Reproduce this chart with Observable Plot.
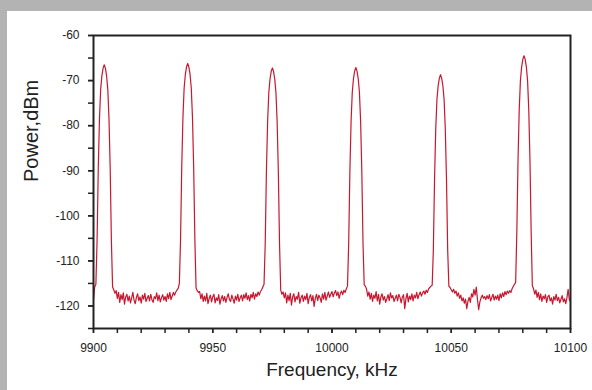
<!DOCTYPE html>
<html>
<head>
<meta charset="utf-8">
<script src="https://cdn.jsdelivr.net/npm/d3@7"></script>
<script src="https://cdn.jsdelivr.net/npm/@observablehq/plot@0.6"></script>
<style>
  html, body { margin: 0; padding: 0; }
  body { width: 592px; height: 390px; background: #b3b3b3; position: relative; overflow: hidden; }
  #chart { position: absolute; left: 7px; top: 11px; width: 585px; height: 379px; background: #ffffff; }
</style>
</head>
<body>
<div id="chart"></div>
<script>
// Spectrum sampled every 0.5 kHz starting at 9900 kHz
const freqStart = 9900;
const freqStep = 0.5;

const floor0 = [-118.6, -115.8];
const peak1 = [-115.2, -105.5, -89.5, -78.5, -72.0, -69.0, -67.3, -66.5, -67.3, -69.0, -72.0, -78.5, -89.5, -105.5, -115.8];
const floor1 = [
  -116.4, -117.2, -116.6, -118.3, -117.0, -119.2, -117.5, -118.6, -117.1, -119.6,
  -118.0, -117.4, -118.9, -117.8, -119.3, -118.2, -117.0, -118.7, -119.5, -118.1,
  -117.3, -118.8, -118.0, -119.4, -117.6, -118.5, -117.2, -119.0, -118.3, -117.7,
  -118.9, -117.4, -118.6, -119.2, -117.9, -118.4, -117.1, -118.8, -117.6, -119.1,
  -118.2, -117.5, -118.7, -117.9, -119.0, -117.3, -118.4, -117.0, -118.6, -117.8,
  -117.0, -117.6, -116.9, -116.5, -116.1];
const peak2 = [-115.0, -105.2, -89.2, -78.2, -71.7, -68.7, -67.0, -66.2, -67.0, -68.7, -71.7, -78.2, -89.2, -105.2, -116.0];
const floor2 = [
  -116.6, -117.0, -116.8, -118.4, -117.3, -119.0, -117.8, -118.9, -117.2, -119.5,
  -118.3, -117.6, -119.1, -118.0, -117.4, -119.3, -118.2, -118.8, -117.5, -119.6,
  -118.4, -117.7, -118.9, -117.9, -119.2, -118.1, -117.3, -118.6, -119.0, -117.6,
  -118.5, -119.4, -117.8, -118.7, -117.4, -119.0, -118.2, -117.6, -118.9, -117.5,
  -118.3, -117.1, -118.6, -117.7, -118.9, -117.4, -118.2, -117.0, -118.5, -117.3,
  -117.9, -116.9, -117.6, -116.8, -116.4, -115.8];
const peak3 = [-115.2, -106.2, -90.2, -79.2, -72.7, -69.7, -68.0, -67.2, -68.0, -69.7, -72.7, -79.2, -90.2, -106.2, -116.5];
const floor3 = [
  -117.4, -116.9, -118.2, -117.1, -119.3, -117.6, -118.8, -117.2, -119.8, -118.0,
  -117.3, -119.1, -117.9, -118.5, -117.0, -119.4, -118.2, -117.6, -119.0, -117.8,
  -118.6, -117.2, -119.5, -118.1, -117.5, -118.9, -117.7, -120.1, -118.3, -117.4,
  -118.8, -117.6, -118.2, -119.2, -117.3, -118.5, -117.0, -118.7, -117.8, -116.9,
  -118.1, -117.4, -116.8, -118.0, -117.1, -116.6, -117.7, -116.9, -118.3, -117.2,
  -116.7, -117.5, -116.5, -117.0, -116.2];
const peak4 = [-115.6, -106.1, -90.1, -79.1, -72.6, -69.6, -67.9, -67.1, -67.9, -69.6, -72.6, -79.1, -90.1, -106.1, -115.3];
const floor4 = [
  -115.6, -116.3, -117.8, -116.9, -118.5, -117.2, -119.0, -117.6, -118.3, -116.8,
  -118.9, -117.4, -119.6, -118.0, -117.3, -118.7, -117.9, -119.2, -118.4, -117.5,
  -118.8, -117.1, -118.2, -117.7, -119.0, -118.3, -117.6, -118.9, -117.4, -118.1,
  -119.3, -118.0, -117.5, -120.6, -118.4, -117.2, -119.1, -117.8, -118.6, -117.3,
  -118.9, -117.6, -118.2, -117.0, -118.4, -117.5, -116.9, -117.8, -117.1, -116.7,
  -117.4, -116.5, -117.0, -116.2, -115.9, -115.6];
const peak5 = [-115.4, -107.5, -91.7, -80.7, -74.2, -71.2, -69.5, -68.7, -69.5, -71.2, -74.2, -80.7, -91.7, -107.5, -115.6];
const floor5 = [
  -115.9, -116.4, -116.9, -116.3, -117.2, -116.7, -117.8, -117.1, -118.3, -117.6,
  -118.9, -118.2, -119.4, -118.5, -120.6, -119.0, -118.1, -119.2, -117.3, -118.0,
  -116.3, -117.6, -115.8, -118.6, -120.8, -119.1, -118.2, -117.6, -118.3, -117.9,
  -118.6, -117.7, -118.4, -117.5, -118.9, -118.1, -117.4, -118.7, -117.8, -118.5,
  -117.6, -118.8, -117.3, -118.2, -117.1, -117.9, -116.8, -117.5, -116.7, -117.2,
  -116.6, -117.0, -116.2, -115.7, -115.2];
const peak6 = [-114.8, -103.5, -87.5, -76.5, -70.0, -67.0, -65.3, -64.5, -65.3, -67.0, -70.0, -76.5, -87.5, -103.5, -115.5];
const floor6 = [
  -116.2, -117.4, -116.5, -118.1, -117.0, -118.6, -117.3, -119.0, -117.8, -118.4,
  -117.5, -119.2, -118.0, -117.6, -118.9, -118.2, -119.6, -117.9, -118.7, -117.4,
  -118.8, -118.1, -119.3, -118.5, -117.7, -119.1, -118.4, -119.5, -118.2, -116.3,
  -118.6, -119.0];

const xTickLabels = [9900, 9950, 10000, 10050, 10100];
const xMinorTicks = [9900, 9910, 9920, 9930, 9940, 9950, 9960, 9970, 9980, 9990, 10000,
                     10010, 10020, 10030, 10040, 10050, 10060, 10070, 10080, 10090, 10100];
const yTickLabels = [-60, -70, -80, -90, -100, -110, -120];
const yMinorTicks = [-60, -65, -70, -75, -80, -85, -90, -95, -100, -105, -110, -115, -120, -125];
const xTitle = "Frequency, kHz";
const yTitle = "Power,dBm";

const power = [].concat(floor0, peak1, floor1, peak2, floor2, peak3, floor3, peak4, floor4, peak5, floor5, peak6, floor6);
const data = power.map((p, i) => ({f: freqStart + i * freqStep, p}));

const ink = "#222222";
const chart = Plot.plot({
  width: 585,
  height: 379,
  marginLeft: 86,
  marginTop: 24,
  marginRight: 22,
  marginBottom: 62,
  style: {fontFamily: "'Liberation Sans', Arial, Helvetica, sans-serif", fontSize: "12px", color: ink, background: "#ffffff"},
  x: {domain: [9900, 10100]},
  y: {domain: [-125, -60]},
  marks: [
    Plot.axisX(xMinorTicks, {tickSize: 5, text: null, stroke: ink, strokeWidth: 1.5, label: null}),
    Plot.axisX(xTickLabels, {tickSize: 5, tickPadding: 10, stroke: ink, strokeWidth: 1.5, fill: ink, fontSize: 12, label: null, tickFormat: d => String(d)}),
    Plot.axisY(yMinorTicks, {tickSize: 5, text: null, stroke: ink, strokeWidth: 1.5, label: null}),
    Plot.axisY(yTickLabels, {tickSize: 5, tickPadding: 9, stroke: ink, strokeWidth: 1.5, fill: ink, fontSize: 12, label: null, tickFormat: d => String(d)}),
    Plot.line(data, {x: "f", y: "p", stroke: "#c8172f", strokeWidth: 1.2, clip: true}),
    Plot.frame({stroke: ink, strokeWidth: 2}),
    Plot.text([xTitle], {text: d => d, frameAnchor: "bottom", dy: 47, fontSize: 19, fill: ink}),
    Plot.text([yTitle], {text: d => d, frameAnchor: "left", dx: -62, rotate: -90, fontSize: 20, fill: ink})
  ]
});
document.getElementById("chart").appendChild(chart);
</script>
</body>
</html>
